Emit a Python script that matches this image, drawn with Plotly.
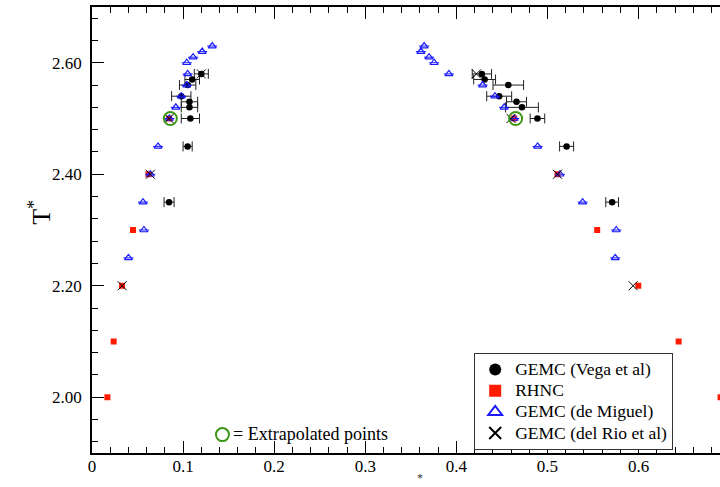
import plotly.graph_objects as go

# Coexistence curve: reduced density vs reduced temperature

# GEMC (Vega et al) - vapour branch then liquid branch, with density error bars
vega_rho = [0.120, 0.110, 0.105, 0.098, 0.107, 0.107, 0.108, 0.105, 0.0846,
            0.428, 0.431, 0.457, 0.447, 0.466, 0.472, 0.489, 0.521, 0.571]
vega_T = [2.58, 2.57, 2.56, 2.54, 2.53, 2.52, 2.50, 2.45, 2.35,
          2.58, 2.57, 2.56, 2.54, 2.53, 2.52, 2.50, 2.45, 2.35]
vega_err = [0.0077, 0.008, 0.009, 0.0106, 0.009, 0.009, 0.010, 0.005, 0.0055,
            0.0106, 0.012, 0.0168, 0.0137, 0.011, 0.018, 0.008, 0.0077, 0.007]

# RHNC
rhnc_rho = [0.0846, 0.062, 0.045, 0.033, 0.0238, 0.0169,
            0.4635, 0.511, 0.5546, 0.5997, 0.644, 0.690]
rhnc_T = [2.50, 2.40, 2.30, 2.20, 2.10, 2.00,
          2.50, 2.40, 2.30, 2.20, 2.10, 2.00]

# GEMC (de Miguel)
miguel_rho = [0.132, 0.121, 0.111, 0.104, 0.105, 0.104, 0.098, 0.092, 0.085,
              0.0725, 0.064, 0.056, 0.057, 0.040,
              0.3646, 0.361, 0.370, 0.3756, 0.3918, 0.4288, 0.4423, 0.4525,
              0.4635, 0.4892, 0.5137, 0.5386, 0.5755, 0.5744]
miguel_T = [2.63, 2.62, 2.61, 2.60, 2.58, 2.56, 2.54, 2.52, 2.50,
            2.45, 2.40, 2.35, 2.30, 2.25,
            2.63, 2.62, 2.61, 2.60, 2.58, 2.56, 2.54, 2.52,
            2.50, 2.45, 2.40, 2.35, 2.30, 2.25]
miguel_err = [0.0055] * len(miguel_rho)

# GEMC (del Rio et al)
rio_rho = [0.120, 0.0846, 0.0641, 0.0331, 0.422, 0.460, 0.511, 0.594]
rio_T = [2.58, 2.50, 2.40, 2.20, 2.58, 2.50, 2.40, 2.20]

# Extrapolated points
extrap_rho = [0.086, 0.465]
extrap_T = [2.50, 2.50]

# Key entry for the extrapolated-points symbol
key_rho = [0.1432]
key_T = [1.933]
key_text = "= Extrapolated points"

FONT = "Liberation Serif, Times New Roman, serif"
GREEN = "#3c9614"
LEGEND_TEXT = "<span style='font-size:17.5px'>{}</span>"

fig = go.Figure()

fig.add_trace(go.Scatter(
    x=vega_rho, y=vega_T, mode="markers",
    name=LEGEND_TEXT.format("GEMC (Vega et al)"),
    marker=dict(symbol="circle", size=6.5, color="black"),
    error_x=dict(type="data", array=vega_err, color="#222222",
                 thickness=1, width=5),
))
fig.add_trace(go.Scatter(
    x=rhnc_rho, y=rhnc_T, mode="markers",
    name=LEGEND_TEXT.format("RHNC"),
    marker=dict(symbol="square", size=6, color="#ff1a00"),
))
fig.add_trace(go.Scatter(
    x=miguel_rho, y=miguel_T, mode="markers",
    name=LEGEND_TEXT.format("GEMC (de Miguel)"),
    marker=dict(symbol="triangle-up-open", size=7, color="#1a1aff",
                line=dict(width=1.2)),
    error_x=dict(type="data", array=miguel_err, color="#1a1aff",
                 thickness=1, width=0),
))
fig.add_trace(go.Scatter(
    x=rio_rho, y=rio_T, mode="markers",
    name=LEGEND_TEXT.format("GEMC (del Rio et al)"),
    marker=dict(symbol="x-thin-open", size=9, color="black",
                line=dict(width=1, color="black")),
))
fig.add_trace(go.Scatter(
    x=extrap_rho, y=extrap_T, mode="markers", showlegend=False,
    marker=dict(symbol="circle-open", size=13, color=GREEN,
                line=dict(width=2, color=GREEN)),
))
fig.add_trace(go.Scatter(
    x=key_rho, y=key_T, mode="markers", showlegend=False,
    marker=dict(symbol="circle-open", size=13, color=GREEN,
                line=dict(width=2, color=GREEN)),
))

fig.add_annotation(
    x=key_rho[0], y=key_T[0], xref="x", yref="y", text=key_text,
    showarrow=False, xanchor="left", xshift=9, yshift=1,
    font=dict(family=FONT, size=18, color="black"),
)
# y-axis title
fig.add_annotation(
    x=-0.0833, y=0.54, xref="paper", yref="paper", text="T<sup>*</sup>",
    showarrow=False, textangle=-90, xanchor="center", yanchor="middle",
    font=dict(family=FONT, size=26, color="black"),
)
# x-axis title: only its superscript fits above the bottom edge
fig.add_annotation(
    x=0.522, y=-0.0763, xref="paper", yref="paper", text="*",
    showarrow=False, xanchor="center", yanchor="bottom",
    font=dict(family=FONT, size=12, color="#333333"),
)

fig.update_layout(
    width=720, height=487,
    margin=dict(l=92, r=0, t=7, b=34),
    paper_bgcolor="white", plot_bgcolor="white",
    font=dict(family=FONT, size=17, color="black"),
    showlegend=True,
    legend=dict(
        x=0.6086, y=0.007, xanchor="left", yanchor="bottom",
        bgcolor="white", bordercolor="#333333", borderwidth=1,
        font=dict(family=FONT, size=14, color="black"),
        itemsizing="constant", tracegroupgap=0,
    ),
    xaxis=dict(
        range=[0, 0.6894], showgrid=False, zeroline=False,
        showline=True, linecolor="black", linewidth=1.5, mirror="ticks",
        ticks="inside", ticklen=12, tickwidth=1, tickcolor="black",
        dtick=0.1, tick0=0, ticklabelstandoff=-3,
        minor=dict(ticks="inside", ticklen=6, dtick=0.02, tick0=0,
                   tickcolor="black", showgrid=False),
        tickfont=dict(family=FONT, size=17, color="black"),
    ),
    yaxis=dict(
        range=[1.90, 2.70], showgrid=False, zeroline=False,
        showline=True, linecolor="black", linewidth=1.5,
        ticks="inside", ticklen=12, tickwidth=1, tickcolor="black",
        dtick=0.2, tick0=2.0, tickformat=".2f", ticklabelstandoff=5,
        minor=dict(ticks="inside", ticklen=6, dtick=0.04, tick0=2.0,
                   tickcolor="black", showgrid=False),
        tickfont=dict(family=FONT, size=17, color="black"),
    ),
    yaxis2=dict(
        range=[1.90, 2.70], overlaying="y", side="right",
        showgrid=False, zeroline=False, showline=False,
        ticks="inside", ticklen=3, tickwidth=1, tickcolor="black",
        dtick=0.2, tick0=2.0, showticklabels=False,
    ),
)

fig.write_html("out.html")
